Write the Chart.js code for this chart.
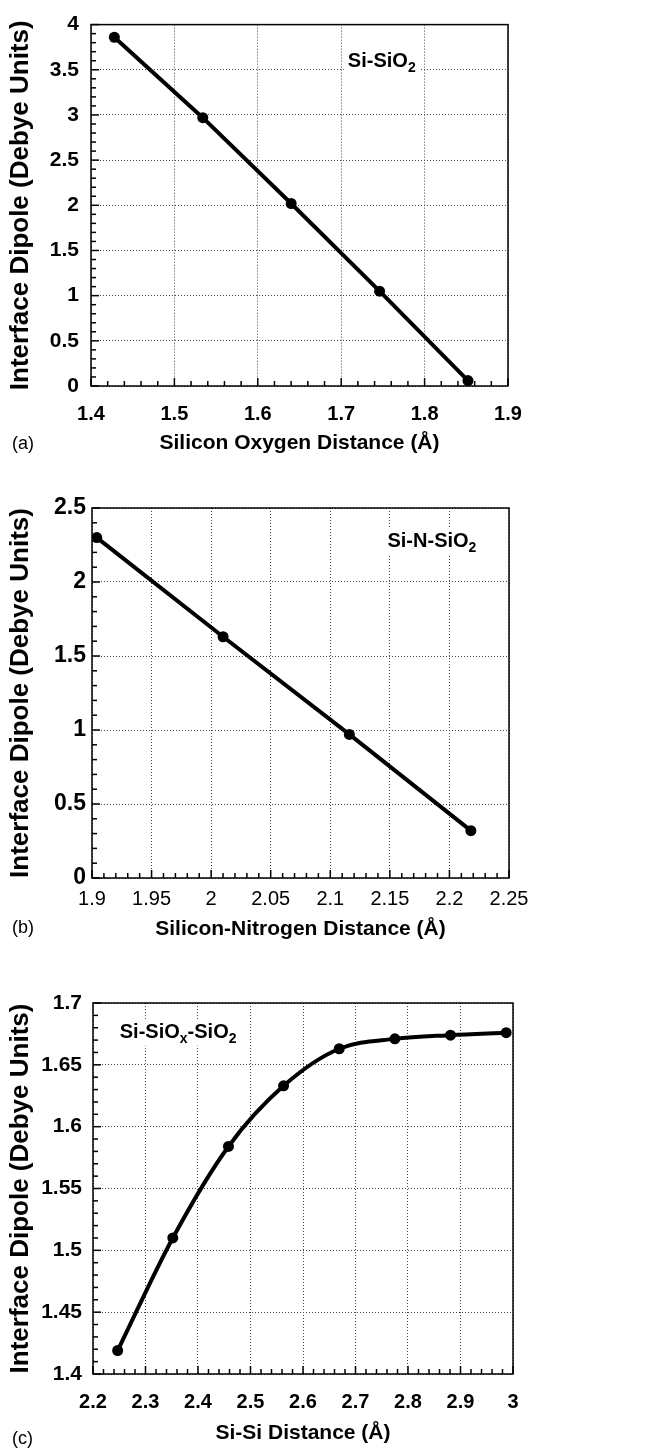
<!DOCTYPE html>
<html>
<head>
<meta charset="utf-8">
<script src="https://cdn.jsdelivr.net/npm/chart.js@4.4.1/dist/chart.umd.min.js"></script>
<style>
  body { margin: 0; background: #fff; }
  canvas { display: block; }
</style>
</head>
<body>
<canvas id="chart-a" width="654" height="480"></canvas>
<canvas id="chart-b" width="654" height="480"></canvas>
<canvas id="chart-c" width="654" height="488"></canvas>
<script>
// (a) Si-SiO2
const oxDistance = [1.428, 1.534, 1.640, 1.746, 1.852];
const oxDipole = [3.86, 2.97, 2.02, 1.05, 0.06];
const oxXTicks = [1.4, 1.5, 1.6, 1.7, 1.8, 1.9];
const oxYTicks = [0, 0.5, 1, 1.5, 2, 2.5, 3, 3.5, 4];

// (b) Si-N-SiO2
const nDistance = [1.904, 2.010, 2.116, 2.218];
const nDipole = [2.30, 1.63, 0.97, 0.32];
const nXTicks = [1.9, 1.95, 2, 2.05, 2.1, 2.15, 2.2, 2.25];
const nYTicks = [0, 0.5, 1, 1.5, 2, 2.5];

// (c) Si-SiOx-SiO2
const siDistance = [2.247, 2.352, 2.458, 2.563, 2.669, 2.775, 2.881, 2.987];
const siDipole = [1.419, 1.510, 1.584, 1.633, 1.663, 1.671, 1.674, 1.676];
const siXTicks = [2.2, 2.3, 2.4, 2.5, 2.6, 2.7, 2.8, 2.9, 3];
const siYTicks = [1.4, 1.45, 1.5, 1.55, 1.6, 1.65, 1.7];

const yTitle = "Interface Dipole (Debye Units)";
const FONT = "'Liberation Sans', Arial, Helvetica, sans-serif";

// draws box, inside ticks, the species label and the panel letter
const framePlugin = {
  id: "frame",
  afterDraw(chart, args, opts) {
    const ctx = chart.ctx;
    const a = chart.chartArea;
    const xs = chart.scales.x;
    const ys = chart.scales.y;
    ctx.save();
    ctx.strokeStyle = "#000";
    ctx.lineWidth = 1.5;

    // minor + major ticks, pointing into the plot
    function ticks(scale, step, majors, horizontal) {
      const n = Math.round((scale.max - scale.min) / step);
      for (let i = 0; i <= n; i++) {
        const v = scale.min + i * step;
        const isMajor = majors.some((m) => Math.abs(m - v) < step / 10);
        const len = isMajor ? 8 : 5;
        const p = scale.getPixelForValue(v);
        ctx.beginPath();
        if (horizontal) {
          ctx.moveTo(p, a.bottom);
          ctx.lineTo(p, a.bottom - len);
        } else {
          ctx.moveTo(a.left, p);
          ctx.lineTo(a.left + len, p);
        }
        ctx.stroke();
      }
    }
    ticks(xs, opts.xMinor, opts.xMajor, true);
    ticks(ys, opts.yMinor, opts.yMajor, false);

    ctx.strokeRect(a.left, a.top, a.right - a.left, a.bottom - a.top);

    // species label with subscripts
    const big = "bold 20px " + FONT;
    const small = "bold 14px " + FONT;
    let x = xs.getPixelForValue(opts.labelAt[0]);
    const y = ys.getPixelForValue(opts.labelAt[1]);
    let w = 0;
    opts.label.forEach((part) => {
      ctx.font = part[1] ? small : big;
      w += ctx.measureText(part[0]).width;
    });
    ctx.fillStyle = "#fff";
    ctx.fillRect(x - 4, y - 18, w + 8, 26);
    ctx.fillStyle = "#000";
    ctx.textBaseline = "alphabetic";
    ctx.textAlign = "left";
    opts.label.forEach((part) => {
      ctx.font = part[1] ? small : big;
      ctx.fillText(part[0], x, part[1] ? y + 5 : y);
      x += ctx.measureText(part[0]).width;
    });

    // panel letter
    ctx.font = "18px " + FONT;
    ctx.textBaseline = "middle";
    ctx.fillText(opts.letter, opts.letterAt[0], opts.letterAt[1]);
    ctx.restore();
  },
};

function makeChart(id, o) {
  const points = o.xs.map((x, i) => ({ x: x, y: o.ys[i] }));
  return new Chart(document.getElementById(id), {
    type: "scatter",
    data: {
      datasets: [
        {
          data: points,
          showLine: true,
          borderColor: "#000",
          backgroundColor: "#000",
          borderWidth: 4,
          pointRadius: 5.5,
          pointBorderWidth: 0,
          pointHoverRadius: 5.5,
          cubicInterpolationMode: o.smooth ? "monotone" : "default",
        },
      ],
    },
    options: {
      responsive: false,
      animation: false,
      devicePixelRatio: 1,
      layout: {
        padding: { left: 0, top: o.area.top, right: 654 - o.area.right, bottom: 0 },
      },
      plugins: {
        legend: { display: false },
        tooltip: { enabled: false },
        frame: o.frame,
      },
      scales: {
        x: {
          type: "linear",
          min: o.xTicks[0],
          max: o.xTicks[o.xTicks.length - 1],
          afterBuildTicks: (s) => {
            s.ticks = o.xTicks.map((v) => ({ value: v }));
          },
          afterFit: (s) => {
            s.height = o.height - o.area.bottom;
          },
          grid: { color: "#444", lineWidth: 1, drawTicks: false },
          border: { display: false, dash: [1, 2] },
          ticks: {
            color: "#000",
            padding: o.xTickPad,
            font: { family: FONT, size: 20, weight: o.xTickWeight },
            callback: (v) => String(v),
          },
          title: {
            display: true,
            text: o.xTitle,
            color: "#000",
            font: { family: FONT, size: 21, weight: "bold" },
            padding: { top: 0, bottom: o.xTitlePad },
          },
        },
        y: {
          type: "linear",
          min: o.yTicks[0],
          max: o.yTicks[o.yTicks.length - 1],
          afterBuildTicks: (s) => {
            s.ticks = o.yTicks.map((v) => ({ value: v }));
          },
          afterFit: (s) => {
            s.width = o.area.left;
          },
          grid: { color: "#444", lineWidth: 1, drawTicks: false },
          border: { display: false, dash: [1, 2] },
          ticks: {
            color: "#000",
            padding: o.yTickPad,
            font: { family: FONT, size: o.yTickSize, weight: "bold" },
            callback: (v) => String(v),
          },
          title: {
            display: true,
            text: yTitle,
            color: "#000",
            font: { family: FONT, size: 26, weight: "bold" },
            padding: { top: 5, bottom: 0 },
          },
        },
      },
    },
    plugins: [framePlugin],
  });
}

makeChart("chart-a", {
  xs: oxDistance,
  ys: oxDipole,
  xTicks: oxXTicks,
  yTicks: oxYTicks,
  height: 480,
  area: { left: 91, right: 508, top: 16, bottom: 386 },
  xTickPad: 16,
  xTickWeight: "bold",
  yTickPad: 12,
  yTickSize: 21,
  xTitle: "Silicon Oxygen Distance (Å)",
  xTitlePad: 24,
  frame: {
    xMinor: 0.02, xMajor: oxXTicks, yMinor: 0.1, yMajor: oxYTicks,
    label: [["Si-SiO", false], ["2", true]],
    labelAt: [1.708, 3.53],
    letter: "(a)",
    letterAt: [12, 444],
  },
});

makeChart("chart-b", {
  xs: nDistance,
  ys: nDipole,
  xTicks: nXTicks,
  yTicks: nYTicks,
  height: 480,
  area: { left: 92, right: 509, top: 28, bottom: 398 },
  xTickPad: 9,
  xTickWeight: "normal",
  yTickPad: 6,
  yTickSize: 23,
  xTitle: "Silicon-Nitrogen Distance (Å)",
  xTitlePad: 18,
  frame: {
    xMinor: 0.01, xMajor: nXTicks, yMinor: 0.1, yMajor: nYTicks,
    label: [["Si-N-SiO", false], ["2", true]],
    labelAt: [2.148, 2.236],
    letter: "(b)",
    letterAt: [12, 448],
  },
});

makeChart("chart-c", {
  xs: siDistance,
  ys: siDipole,
  smooth: true,
  xTicks: siXTicks,
  yTicks: siYTicks,
  height: 488,
  area: { left: 93, right: 513, top: 43, bottom: 414 },
  xTickPad: 16,
  xTickWeight: "bold",
  yTickPad: 11,
  yTickSize: 21,
  xTitle: "Si-Si Distance (Å)",
  xTitlePad: 2,
  frame: {
    xMinor: 0.02, xMajor: siXTicks, yMinor: 0.01, yMajor: siYTicks,
    label: [["Si-SiO", false], ["x", true], ["-SiO", false], ["2", true]],
    labelAt: [2.251, 1.672],
    letter: "(c)",
    letterAt: [12, 479],
  },
});
</script>
</body>
</html>
